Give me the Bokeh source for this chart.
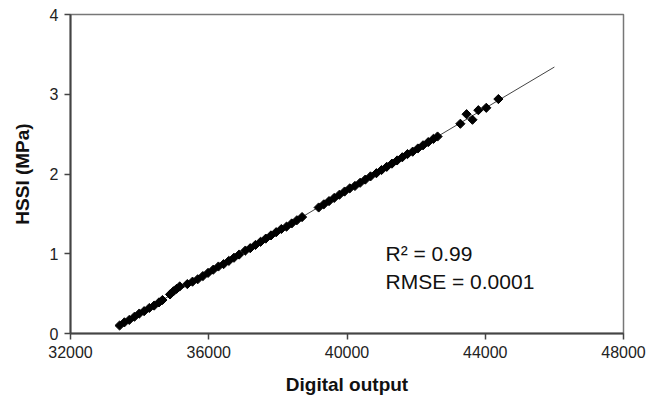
from bokeh.plotting import figure
from bokeh.models import FixedTicker, Range1d, Label, BasicTickFormatter
from bokeh.embed import file_html
from bokeh.resources import INLINE
import math

# ---- data ----
digital_output = [
    33420, 33560, 33700, 33850, 33990, 34130, 34280, 34420, 34560, 34660,
    34880, 34980, 35070, 35160,
    35380, 35530, 35680, 35830, 35980, 36130, 36280, 36430, 36580, 36730, 36880,
    37060, 37200, 37350, 37500, 37650, 37800, 37950, 38100, 38250, 38400, 38550, 38700,
    39180, 39330, 39480, 39630, 39780, 39930, 40080, 40230, 40380, 40530, 40680,
    40850, 41000, 41150, 41300, 41450, 41600, 41750, 41900, 42050, 42200, 42350, 42500, 42620,
    43280, 43460, 43630, 43800, 44030, 44380,
]
hssi_mpa = [
    0.10, 0.14, 0.17, 0.21, 0.25, 0.28, 0.32, 0.35, 0.39, 0.42,
    0.49, 0.53, 0.56, 0.59,
    0.62, 0.65, 0.68, 0.72, 0.76, 0.80, 0.84, 0.87, 0.91, 0.95, 0.99,
    1.04, 1.07, 1.11, 1.15, 1.19, 1.23, 1.27, 1.31, 1.34, 1.38, 1.42, 1.46,
    1.58, 1.62, 1.66, 1.70, 1.74, 1.78, 1.82, 1.85, 1.89, 1.93, 1.97,
    2.01, 2.05, 2.09, 2.13, 2.17, 2.21, 2.25, 2.28, 2.32, 2.36, 2.40, 2.44, 2.47,
    2.63, 2.75, 2.68, 2.80, 2.83, 2.94,
]
fit_slope = 2.576e-4
fit_intercept = 0.10 - 2.576e-4 * 33418
fit_x_range = [33418, 46000]

x_ticks = [32000, 36000, 40000, 44000, 48000]
y_ticks = [0, 1, 2, 3, 4]
stats_text = ["R\u00b2 = 0.99", "RMSE = 0.0001"]

fit_y = [fit_slope * x + fit_intercept for x in fit_x_range]

p = figure(
    width=650, height=390,
    frame_width=553, frame_height=319,
    min_border_left=70, min_border_right=27, min_border_top=14, min_border_bottom=57,
    x_range=Range1d(32000, 48000), y_range=Range1d(0, 4),
    output_backend="svg", toolbar_location=None,
    background_fill_color="white", border_fill_color="white",
)
p.grid.visible = False
p.outline_line_color = "#777777"
p.outline_line_width = 1.5

p.line(fit_x_range, fit_y, line_color="#444444", line_width=1)
p.scatter(digital_output, hssi_mpa, marker="square", size=6.5, angle=math.pi / 4,
          fill_color="black", line_color="black", line_width=1)

for ax in (p.xaxis[0], p.yaxis[0]):
    ax.axis_line_color = "#444444"
    ax.axis_line_width = 2
    ax.major_tick_line_color = "#444444"
    ax.major_tick_line_width = 1.5
    ax.major_tick_in = 0
    ax.major_tick_out = 6
    ax.minor_tick_line_color = None
    ax.major_label_text_font = "Liberation Sans"
    ax.major_label_text_font_size = "16px"
    ax.major_label_text_color = "#222222"
    ax.axis_label_text_font = "Liberation Sans"
    ax.axis_label_text_font_style = "bold"
    ax.axis_label_text_font_size = "19px"
    ax.axis_label_text_color = "#111111"

p.xaxis.ticker = FixedTicker(ticks=x_ticks)
p.yaxis.ticker = FixedTicker(ticks=y_ticks)
p.xaxis.formatter = BasicTickFormatter(use_scientific=False)
p.xaxis.axis_label = "Digital output"
p.yaxis.axis_label = "HSSI (MPa)"
p.xaxis.major_label_standoff = 6
p.yaxis.major_label_standoff = 6
p.xaxis.axis_label_standoff = 13
p.yaxis.axis_label_standoff = 14

p.add_layout(Label(x=41114, y=1.0, text=stats_text[0], text_font="Liberation Sans",
                   text_font_size="21px", text_color="#111111", text_baseline="alphabetic"))
p.add_layout(Label(x=41114, y=0.65, text=stats_text[1], text_font="Liberation Sans",
                   text_font_size="21px", text_color="#111111", text_baseline="alphabetic"))

open("out.html", "w").write(file_html(p, INLINE))
